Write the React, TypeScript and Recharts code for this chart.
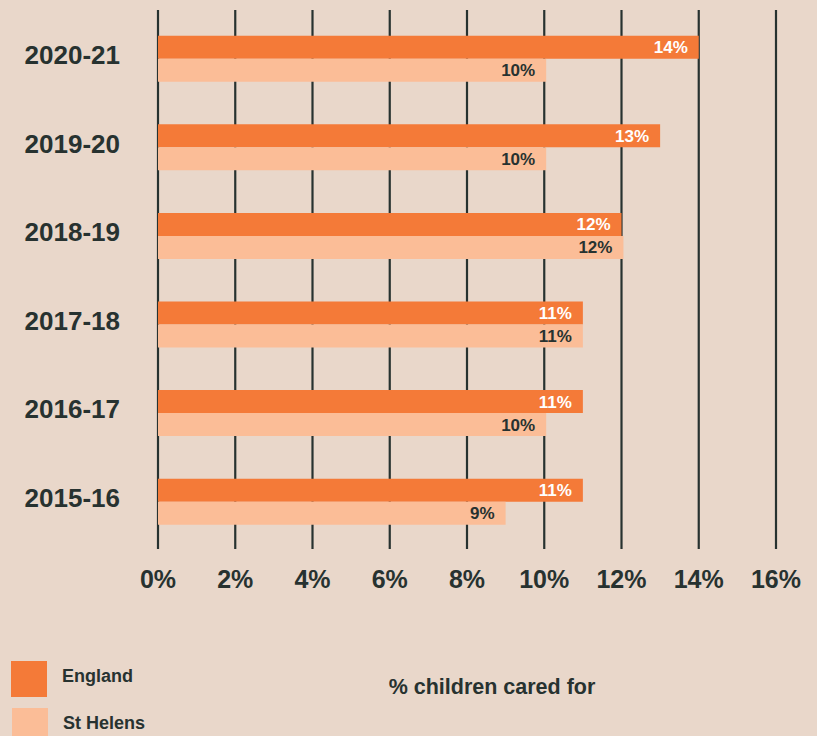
import {
  BarChart,
  Bar,
  XAxis,
  YAxis,
  CartesianGrid,
  LabelList,
  Label,
} from "recharts";

const years = ["2020-21", "2019-20", "2018-19", "2017-18", "2016-17", "2015-16"];
const england = [14, 13, 12, 11, 11, 11];
const stHelens = [10.05, 10.05, 12.05, 11, 10.05, 9];
const xTicks = [0, 2, 4, 6, 8, 10, 12, 14, 16];

const data = years.map((year, i) => ({
  year,
  england: england[i],
  stHelens: stHelens[i],
}));

const BG = "#e9d7ca";
const DARK = "#273230";
const ORANGE = "#f47a38";
const PEACH = "#fbbd97";
const FONT = "'Liberation Sans', Arial, sans-serif";

const seriesList = [
  { key: "england", name: "England", color: ORANGE, labelColor: "#ffffff" },
  { key: "stHelens", name: "St Helens", color: PEACH, labelColor: DARK },
];

const pct = (v: number) => `${Math.round(v)}%`;

const YTick = (props: any) => {
  const { x, y, payload } = props;
  return (
    <text
      x={x - 38}
      y={y + 5}
      textAnchor="end"
      fill={DARK}
      fontFamily={FONT}
      fontWeight="bold"
      fontSize={26}
    >
      {payload.value}
    </text>
  );
};

const XTick = (props: any) => {
  const { x, y, payload } = props;
  return (
    <text
      x={x}
      y={y + 39}
      textAnchor="middle"
      fill={DARK}
      fontFamily={FONT}
      fontWeight="bold"
      fontSize={25}
    >
      {`${payload.value}%`}
    </text>
  );
};

function ChartLegend() {
  return (
    <div style={{ position: "absolute", left: 11, top: 661, fontFamily: FONT }}>
      {seriesList.map((s, i) => (
        <div
          key={s.key}
          style={{
            display: "flex",
            alignItems: "center",
            height: 36,
            marginBottom: 11,
            marginLeft: i === 0 ? 0 : 1,
          }}
        >
          <div style={{ width: 36, height: 36, background: s.color }} />
          <span
            style={{
              marginLeft: 15,
              fontSize: 18,
              fontWeight: "bold",
              color: DARK,
              position: "relative",
              top: -3,
            }}
          >
            {s.name}
          </span>
        </div>
      ))}
    </div>
  );
}

export default function App() {
  return (
    <div
      style={{
        position: "absolute",
        left: 0,
        top: 0,
        width: 817,
        height: 736,
        background: BG,
        overflow: "hidden",
      }}
    >
      <BarChart
        width={817}
        height={736}
        data={data}
        layout="vertical"
        margin={{ top: 10, right: 41, bottom: 0, left: 0 }}
        barGap={0}
        barSize={23}
      >
        <CartesianGrid
          horizontal={false}
          vertical={true}
          stroke={DARK}
          strokeWidth={2.2}
        />
        <XAxis
          type="number"
          domain={[0, 16]}
          ticks={xTicks}
          height={187}
          axisLine={false}
          tickLine={false}
          tickSize={0}
          tickMargin={0}
          tick={<XTick />}
          interval={0}
        >
          <Label
            value="% children cared for"
            position="insideBottom"
            offset={42}
            dx={25}
            fill={DARK}
            fontFamily={FONT}
            fontWeight="bold"
            fontSize={21.5}
          />
        </XAxis>
        <YAxis
          type="category"
          dataKey="year"
          width={158}
          axisLine={false}
          tickLine={false}
          tickSize={0}
          tickMargin={0}
          tick={<YTick />}
          padding={{ top: 4.7, bottom: 2.7 }}
          interval={0}
        />
        {seriesList.map((s) => (
          <Bar
            key={s.key}
            dataKey={s.key}
            name={s.name}
            fill={s.color}
            isAnimationActive={false}
          >
            <LabelList
              dataKey={s.key}
              position="insideRight"
              offset={11}
              formatter={pct}
              fill={s.labelColor}
              fontFamily={FONT}
              fontWeight="bold"
              fontSize={17}
            />
          </Bar>
        ))}
      </BarChart>
      <ChartLegend />
    </div>
  );
}
